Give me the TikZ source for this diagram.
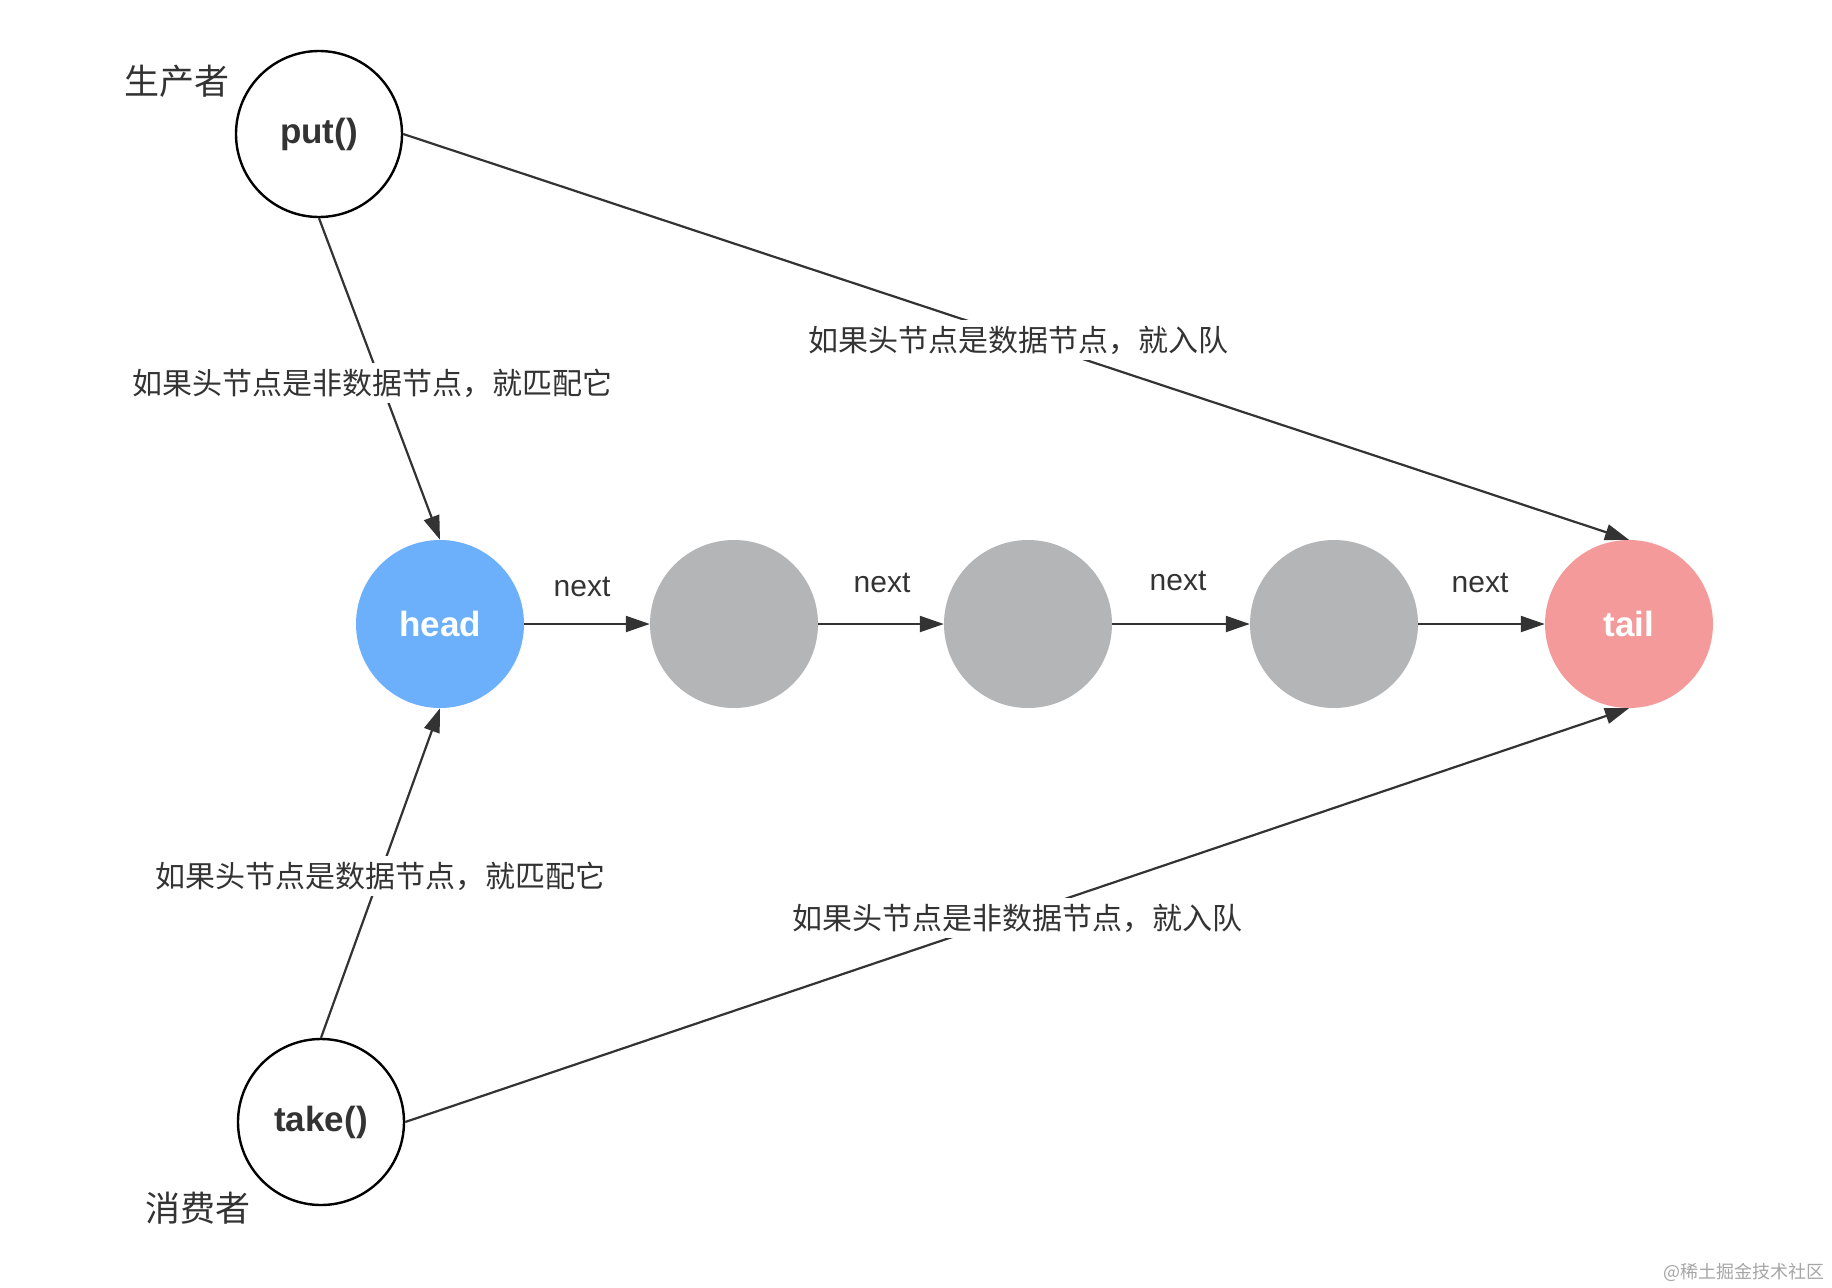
\documentclass[tikz,border=0pt]{standalone}
\usepackage{fontspec}
\setmainfont{Liberation Sans}
\newfontfamily\cjk{Noto Sans CJK SC}
\usetikzlibrary{arrows.meta}
\definecolor{ink}{HTML}{333333}
\definecolor{headblue}{HTML}{6CAFFA}
\definecolor{nodegray}{HTML}{B4B5B6}
\definecolor{tailpink}{HTML}{F49A9A}
\tikzset{
  x=1pt, y=-1pt,
  opnode/.style={circle, draw=black, line width=2.4pt, minimum size=166pt, inner sep=0pt, text=ink, font=\fontsize{35}{40}\selectfont\bfseries},
  listnode/.style={circle, minimum size=168pt, inner sep=0pt, text=white, font=\fontsize{35}{40}\selectfont\bfseries},
  conn/.style={draw=ink, line width=2.2pt, -{Triangle[length=24pt,width=16pt]}},
  cjklabel/.style={fill=white, inner sep=6pt, text=ink, font=\cjk\fontsize{30}{36}\selectfont},
  rolelabel/.style={text=ink, font=\cjk\fontsize{35}{40}\selectfont},
  nextlabel/.style={text=ink, font=\fontsize{30}{36}\selectfont}
}
\begin{document}
\begin{tikzpicture}
\useasboundingbox (0,0) rectangle (1832,1288);
\fill[white] (0,0) rectangle (1832,1288);
% nodes
\node[opnode] (put) at (319,134) {put()};
\node[opnode] (take) at (321,1122) {take()};
\node[rolelabel] (prod) at (177,81) {生产者};
\node[rolelabel] (cons) at (198,1208) {消费者};
\node[listnode, fill=headblue] (head) at (440,624) {head};
\node[listnode, fill=nodegray] (g1) at (734,624) {};
\node[listnode, fill=nodegray] (g2) at (1028,624) {};
\node[listnode, fill=nodegray] (g3) at (1334,624) {};
\node[listnode, fill=tailpink] (tail) at (1629,624) {tail};
% next links
\draw[conn] (head.east) -- (g1.west);
\draw[conn] (g1.east) -- (g2.west);
\draw[conn] (g2.east) -- (g3.west);
\draw[conn] (g3.east) -- (tail.west);
\node[nextlabel] (n1) at (582,587) {next};
\node[nextlabel] (n2) at (882,583) {next};
\node[nextlabel] (n3) at (1178,581) {next};
\node[nextlabel] (n4) at (1480,583) {next};
% operation links
\draw[conn] (put.south) -- (head.north);
\draw[conn] (take.north) -- (head.south);
\draw[conn] (put.east) -- (tail.north);
\draw[conn] (take.east) -- (tail.south);
\node[cjklabel] (l1) at (372,383) {如果头节点是非数据节点，就匹配它};
\node[cjklabel] (l2) at (1018,340) {如果头节点是数据节点，就入队};
\node[cjklabel] (l3) at (380,876) {如果头节点是数据节点，就匹配它};
\node[cjklabel] (l4) at (1017,918) {如果头节点是非数据节点，就入队};
% watermark
\node[text=black!35, font=\cjk\fontsize{18}{20}\selectfont] (wm) at (1744,1272) {@稀土掘金技术社区};
\end{tikzpicture}
\end{document}
